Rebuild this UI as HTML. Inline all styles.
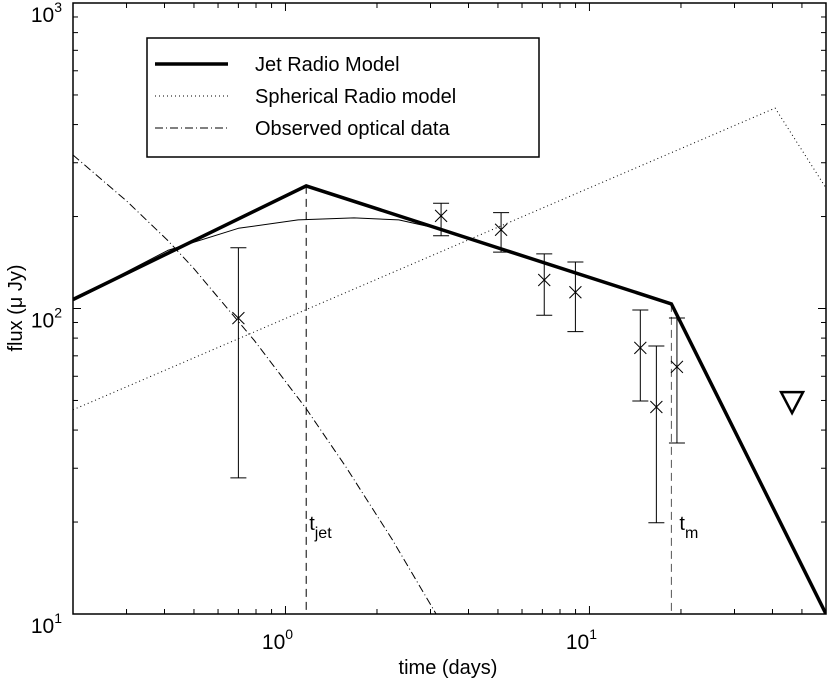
<!DOCTYPE html>
<html><head><meta charset="utf-8"><style>
html,body{margin:0;padding:0;background:#fff;}
svg{display:block;font-family:"Liberation Sans",Arial,sans-serif;}
</style></head><body>
<svg id="chart" width="830" height="684" viewBox="0 0 830 684" xmlns="http://www.w3.org/2000/svg"></svg>
<script>
// ---- data ----
const jetT = [0.2, 1.17, 18.6, 60];
const jetF = [107, 252, 103.5, 10];
const sphT = [0.2, 40.8, 60];
const sphF = [46.6, 453, 248];
const thinT = [0.2, 0.41, 0.70, 1.1, 1.68, 2.36, 3.3];
const thinF = [107, 155, 183, 195, 198, 195, 181];
const optT = [0.2, 0.3, 0.41, 0.5, 0.79, 1.17, 1.58, 2.24, 3.13];
const optF = [318, 225, 167, 135, 78.5, 47, 30.3, 17.6, 10];
const obsT = [0.70, 3.25, 5.12, 7.1, 8.99, 14.7, 16.6, 19.4];
const obsF = [93, 201, 181, 124, 113, 74.3, 47.6, 64.4];
const obsHi = [158, 221, 206, 151, 142, 98.9, 75.4, 93.1];
const obsLo = [27.9, 173, 153, 95, 84, 49.8, 19.9, 36.3];
const limitT = [46.4];
const limitF = [49.4];
const tJet = 1.17, tM = 18.6;
const xTickLabels = ["0", "1"];
const yTickLabels = ["1", "2", "3"];

// ---- axes ----
const L=73, R=826, T=3, B=614;
const xMin=Math.log10(0.2), xMax=Math.log10(60);
const yMin=1, yMax=3;
const X=t=>L+(Math.log10(t)-xMin)/(xMax-xMin)*(R-L);
const Y=f=>B-(Math.log10(f)-yMin)/(yMax-yMin)*(B-T);
const svg=document.getElementById('chart');
const NS='http://www.w3.org/2000/svg';
function mk(tag,attrs,parent){const e=document.createElementNS(NS,tag);for(const k in attrs)e.setAttribute(k,attrs[k]);(parent||svg).appendChild(e);return e;}
function pts(ts,fs){return ts.map((t,i)=>X(t).toFixed(1)+','+Y(fs[i]).toFixed(1)).join(' ');}

// ticks
const tg=mk('g',{stroke:'#000','stroke-width':1});


for(let d=-1;d<=1;d++){for(let m=1;m<10;m++){const t=m*Math.pow(10,d);if(t<0.2-1e-9||t>60+1e-9)continue;const x=X(t);const len=m===1?8:5;
mk('line',{x1:x,y1:B,x2:x,y2:B-len},tg);mk('line',{x1:x,y1:T,x2:x,y2:T+len},tg);}}
for(let d=1;d<3;d++){for(let m=1;m<10;m++){const f=m*Math.pow(10,d);const y=Y(f);const len=m===1?8:5;
mk('line',{x1:L,y1:y,x2:L+len,y2:y},tg);mk('line',{x1:R,y1:y,x2:R-len,y2:y},tg);}}

// tick labels
xTickLabels.forEach(p=>{const x=X(Math.pow(10,+p));
const t=mk('text',{x:x-8,y:649,'font-size':21,'text-anchor':'middle'});


t.textContent='10';const s=mk('tspan',{dy:-10,'font-size':14},t);s.textContent=p;});
yTickLabels.forEach(p=>{const y=Y(Math.pow(10,+p));
const t=mk('text',{x:62,y:y+19,'font-size':21,'text-anchor':'end'});


t.textContent='10';const s=mk('tspan',{dy:-10,'font-size':14},t);s.textContent=p;});

// axis titles
const xt=mk('text',{x:448,y:674,'font-size':20,'text-anchor':'middle'});


xt.textContent='time (days)';
const yt=mk('text',{x:0,y:0,'font-size':20,'text-anchor':'middle',transform:'translate(22,308) rotate(-90)'});


yt.textContent='flux (\u03bc Jy)';

// vertical markers
const vj=mk('line',{x1:X(tJet),y1:Y(252),x2:X(tJet),y2:B,stroke:'#000','stroke-dasharray':'8,5'});


const vm=mk('line',{x1:X(tM),y1:Y(103.5),x2:X(tM),y2:B,stroke:'#555','stroke-dasharray':'8,5'});


const lj=mk('text',{x:X(tJet)+3,y:530,'font-size':20});


lj.textContent='t';const lj2=mk('tspan',{dy:8,'font-size':16},lj);lj2.textContent='jet';
const lm=mk('text',{x:X(tM)+8,y:530,'font-size':20});


lm.textContent='t';const lm2=mk('tspan',{dy:8,'font-size':16},lm);lm2.textContent='m';

// clip
const cp=mk('clipPath',{id:'clip'});mk('rect',{x:L,y:T,width:R-L,height:B-T},cp);

// series
const sph=mk('polyline',{points:pts(sphT,sphF),fill:'none',stroke:'#000','stroke-width':1,'stroke-dasharray':'1,3','clip-path':'url(#clip)'});


const opt=mk('polyline',{points:pts(optT,optF),fill:'none',stroke:'#000','stroke-width':1,'stroke-dasharray':'8,3,1,3','clip-path':'url(#clip)'});


const thin=mk('polyline',{points:pts(thinT,thinF),fill:'none',stroke:'#000','stroke-width':1,'stroke-linejoin':'round'});


const jet=mk('polyline',{points:pts(jetT,jetF),fill:'none',stroke:'#000','stroke-width':3.5,'clip-path':'url(#clip)'});



// observations
obsT.forEach((t,i)=>{const x=X(t),y=Y(obsF[i]),yh=Y(obsHi[i]),yl=Y(obsLo[i]);
const g=mk('g',{stroke:'#000','stroke-width':1});


mk('line',{x1:x,y1:yh,x2:x,y2:yl},g);mk('line',{x1:x-8,y1:yh,x2:x+8,y2:yh},g);mk('line',{x1:x-8,y1:yl,x2:x+8,y2:yl},g);
mk('line',{x1:x-6,y1:y-6,x2:x+6,y2:y+6},g);mk('line',{x1:x-6,y1:y+6,x2:x+6,y2:y-6},g);});
limitT.forEach((t,i)=>{const x=X(t),y=Y(limitF[i]);
const p=mk('polygon',{points:`${x-11},${y-10} ${x+11},${y-10} ${x},${y+11}`,fill:'none',stroke:'#000','stroke-width':2.5});

});

// frame
const fr=mk('rect',{x:L,y:T,width:R-L,height:B-T,fill:'none',stroke:'#000','stroke-width':1.5});



// legend
const lg=mk('g',{});


mk('rect',{x:147,y:38,width:392,height:119,fill:'#fff',stroke:'#000','stroke-width':1.5},lg);
const entries=[['Jet Radio Model',{'stroke-width':3.5}],['Spherical Radio model',{'stroke-dasharray':'1,3'}],['Observed optical data',{'stroke-dasharray':'8,3,1,3'}]];
entries.forEach((e,i)=>{const y=64+i*32;
const g=mk('g',{},lg);


mk('line',Object.assign({x1:155,y1:y,x2:228,y2:y,stroke:'#000','stroke-width':1},e[1]),g);
const t=mk('text',{x:255,y:y+7,'font-size':20},g);t.textContent=e[0];});
</script>
</body></html>
